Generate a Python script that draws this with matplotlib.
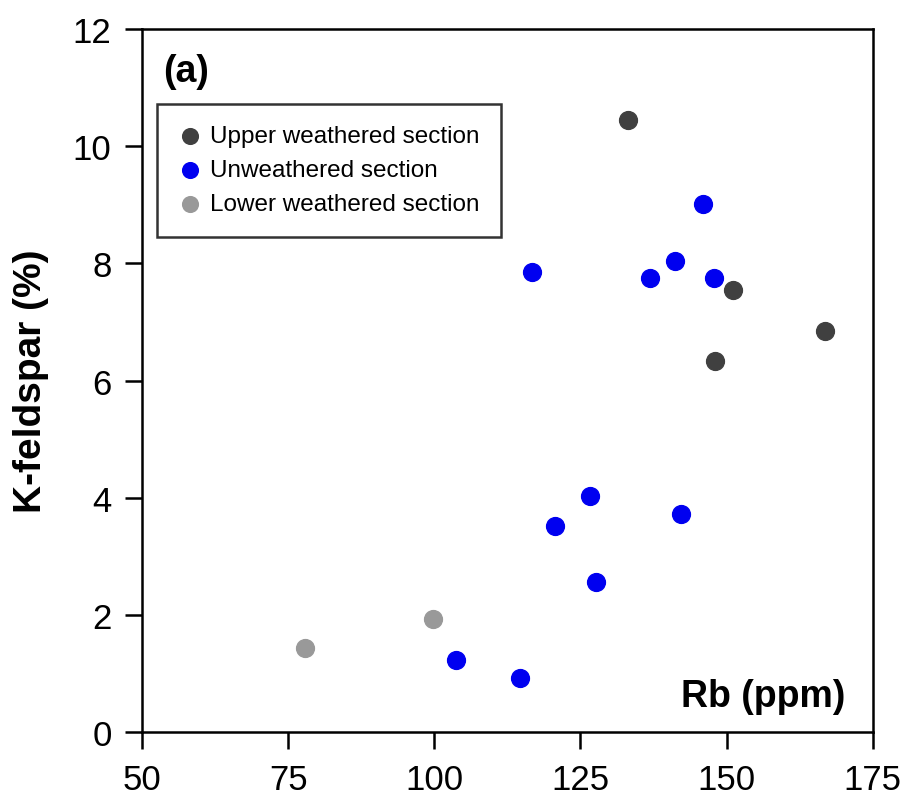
import matplotlib.pyplot as plt

plt.rcParams['font.family'] = ['Liberation Sans', 'DejaVu Sans']

# upper weathered section
upper_rb = [133.1, 151.1, 148.0, 166.8]
upper_kf = [10.45, 7.55, 6.33, 6.85]

# unweathered section
unw_rb = [116.7, 136.9, 141.1, 145.9, 147.8, 126.6, 120.6, 142.2, 127.6, 103.7, 114.6]
unw_kf = [7.85, 7.75, 8.05, 9.02, 7.75, 4.03, 3.52, 3.72, 2.56, 1.23, 0.93]

# lower weathered section
lower_rb = [77.9, 99.8]
lower_kf = [1.44, 1.94]

fig = plt.figure(figsize=(9.11, 8.12), dpi=100)
ax = fig.add_axes([0.156, 0.097, 0.802, 0.866])

ax.scatter(upper_rb, upper_kf, s=165, color='#404040', label='Upper weathered section', zorder=3)
ax.scatter(unw_rb, unw_kf, s=165, color='#0000f0', label='Unweathered section', zorder=3)
ax.scatter(lower_rb, lower_kf, s=165, color='#999999', label='Lower weathered section', zorder=3)

ax.set_xlim(50, 175)
ax.set_ylim(0, 12)
ax.set_xticks([50, 75, 100, 125, 150, 175])
ax.set_yticks([0, 2, 4, 6, 8, 10, 12])
ax.tick_params(direction='out', length=12, width=1.8, labelsize=25, pad=10)
for sp in ax.spines.values():
    sp.set_linewidth(1.8)

ax.set_ylabel('K-feldspar (%)', fontsize=28, fontweight='bold')
ax.yaxis.set_label_coords(-0.128, 0.5)
ax.text(0.962, 0.051, 'Rb (ppm)', transform=ax.transAxes, ha='right', va='center',
        fontsize=27, fontweight='bold')
ax.text(0.029, 0.94, '(a)', transform=ax.transAxes, ha='left', va='center',
        fontsize=27, fontweight='bold')

leg = ax.legend(loc='upper left', bbox_to_anchor=(0.021, 0.894), fontsize=17.5,
                frameon=True, fancybox=False, edgecolor='black', handletextpad=0.32,
                borderpad=0.88, labelspacing=0.5, handlelength=0.95, markerscale=0.88,
                borderaxespad=0)
leg.get_frame().set_linewidth(1.8)

fig.savefig('out.png', dpi=100)
